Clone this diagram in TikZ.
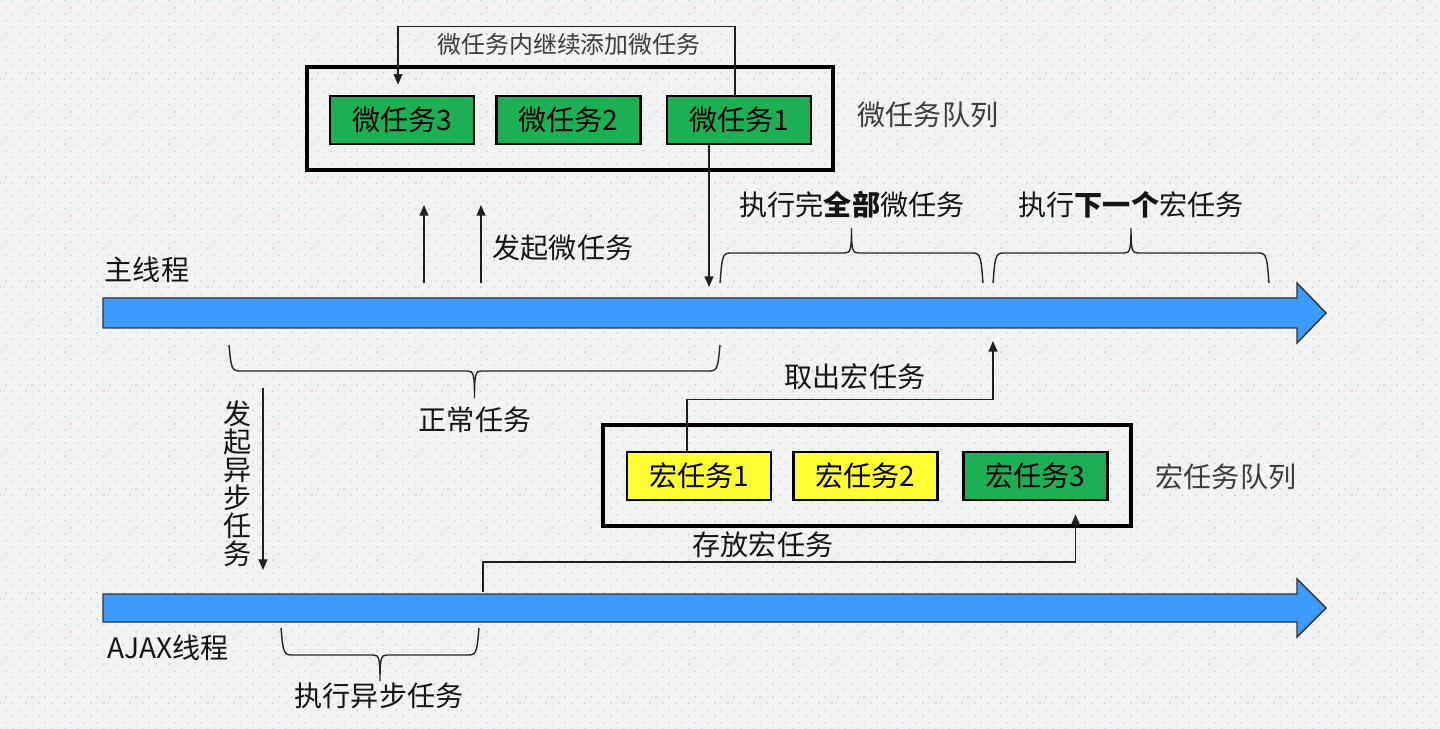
\documentclass[tikz,border=0pt]{standalone}
\usepackage{fontspec}
\setmainfont{Noto Sans CJK SC}
\usetikzlibrary{
		calc,
		patterns,
		arrows.meta
	}
\tikzset{
		>={Triangle[length=6pt,width=5pt]}
	}
\definecolor{bggray}{HTML}{F2F2F2}
\definecolor{dotcol}{HTML}{B8DDE2}
\definecolor{taskgreen}{HTML}{1CAF54}
\definecolor{taskyellow}{HTML}{FFFF33}
\definecolor{threadblue}{HTML}{3D9BFD}
\definecolor{labelgray}{HTML}{3C3C3C}
\pgfdeclarepatternformonly{bgdots}{\pgfqpoint{0pt}{0pt}}{\pgfqpoint{7.56pt}{7.56pt}}{\pgfqpoint{7.56pt}{7.56pt}}{%
	\pgfpathrectangle{\pgfqpoint{0pt}{0pt}}{\pgfqpoint{0.9pt}{0.9pt}}%
	\pgfpathrectangle{\pgfqpoint{3.78pt}{3.78pt}}{\pgfqpoint{0.9pt}{0.9pt}}%
	\pgfusepath{fill}}
% curly brace: x1, x2, foot y, bar y, tip y
\newcommand{\Brace}[5]{%
	\pgfmathsetmacro\bm{(#1+#2)/2}
	\pgfmathsetmacro\bs{sign(#4-#3)}
	\draw[bracestyle] (#1,#3) .. controls ({#1+2},{#4-6*\bs}) and ({#1+2},#4) .. ({#1+10},#4)
		-- ({\bm-7},#4) .. controls ({\bm-1},#4) and (\bm,{#4+3*\bs}) .. (\bm,#5)
		.. controls (\bm,{#4+3*\bs}) and ({\bm+1},#4) .. ({\bm+7},#4)
		-- ({#2-10},#4) .. controls ({#2-2},#4) and ({#2-2},{#4-6*\bs}) .. (#2,#3);}

\begin{document}
\begin{tikzpicture}[x=0.02cm, y=-0.02cm,
				task/.style={draw, line width=1.6pt, minimum width=2.88cm, minimum height=0.96cm, inner sep=0pt, font=\fontsize{16}{19}\selectfont},
				mtask/.style={task, fill=taskgreen},
				ytask/.style={task, fill=taskyellow},
				queue/.style={draw, line width=1.9pt, inner sep=0pt},
				lbl/.style={inner sep=0pt, text=black!92, font=\fontsize{16}{19}\selectfont},
				qlabel/.style={lbl, text=labelgray},
				conn/.style={draw=black!88, line width=0.8pt, ->},
				thread/.style={draw=black!80, line width=0.8pt, fill=threadblue},
				bracestyle/.style={draw=black!85, line width=0.8pt}]
	\useasboundingbox (0,0) rectangle (1440,729);
	\fill[bggray] (0,0) rectangle (1440,729);
	\fill[pattern=bgdots, pattern color=dotcol] (0,0) rectangle (1440,729);

	% threads
	\draw[thread] (103,298) -- (1297,298) -- (1297,283) -- (1326,313) -- (1297,343) -- (1297,328) -- (103,328) -- cycle;
	\draw[thread] (103,594) -- (1297,594) -- (1297,579) -- (1326,608) -- (1297,637) -- (1297,622) -- (103,622) -- cycle;
	\node[lbl] (mainlbl) at (147,270) {主线程};
	\node[lbl] (ajaxlbl) at (168,648) {AJAX线程};

	% micro task queue
	\node[queue, minimum width=10.52cm, minimum height=2.06cm] (mqueue) at (570,118.5) {};
	\node[mtask] (m3) at (402,120) {微任务3};
	\node[mtask] (m2) at (568.5,120) {微任务2};
	\node[mtask] (m1) at (739,120) {微任务1};
	\node[qlabel] (mqlbl) at (928,115) {微任务队列};
	\draw[conn] ($(m1.north)+(-4,0)$) -- ++(0,-68) -| ($(m3.north)+(-4,-10)$);
	\node[qlabel, font=\fontsize{13.6}{16}\selectfont] (addlbl) at (569,44) {微任务内继续添加微任务};

	% macro task queue
	\node[queue, minimum width=10.56cm, minimum height=2.02cm] (Mqueue) at (867,475.5) {};
	\node[ytask] (M1) at (699,476) {宏任务1};
	\node[ytask] (M2) at (865.5,476) {宏任务2};
	\node[mtask] (M3) at (1035.5,476) {宏任务3};
	\node[qlabel] (Mqlbl) at (1226,477) {宏任务队列};

	% connectors
	\coordinate (mdrop) at (709,287);
	\draw[conn] ($(m1.south)+(-30,0)$) -- (mdrop);
	\coordinate (u1s) at (424,283);
	\coordinate (u1e) at (424,205);
	\coordinate (u2s) at (481,283);
	\coordinate (u2e) at (481,205);
	\draw[conn] (u1s) -- (u1e);
	\draw[conn] (u2s) -- (u2e);
	\node[lbl] (startmicro) at (563,248) {发起微任务};
	\coordinate (mtake) at (993,341);
	\draw[conn] ($(M1.north)+(-12,0)$) -- ++(0,-51) -| (mtake);
	\node[lbl] (takelbl) at (855,377) {取出宏任务};
	\coordinate (astart) at (483,592);
	\draw[conn] (astart) -- ++(0,-30) -| ($(M3.south)+(40,13)$);
	\node[lbl] (storelbl) at (763,545) {存放宏任务};
	\coordinate (as1) at (263,388);
	\coordinate (as2) at (263,570);
	\draw[conn] (as1) -- (as2);
	\node[lbl, align=center, font=\fontsize{16}{15.9}\selectfont] (asynclbl) at (238,484) {发\\起\\异\\步\\任\\务};

	% braces
	\Brace{720}{983}{283}{253}{228}
	\node[lbl] (allmicro) at (852,205) {执行完\textbf{全部}微任务};
	\Brace{993}{1269}{283}{253}{228}
	\node[lbl] (nextmacro) at (1131,205) {执行\textbf{下一个}宏任务};
	\Brace{229}{720}{345}{371}{398}
	\node[lbl] (normal) at (475,420) {正常任务};
	\Brace{281}{479}{628}{655}{681}
	\node[lbl] (runasync) at (379,696) {执行异步任务};
\end{tikzpicture}
\end{document}
